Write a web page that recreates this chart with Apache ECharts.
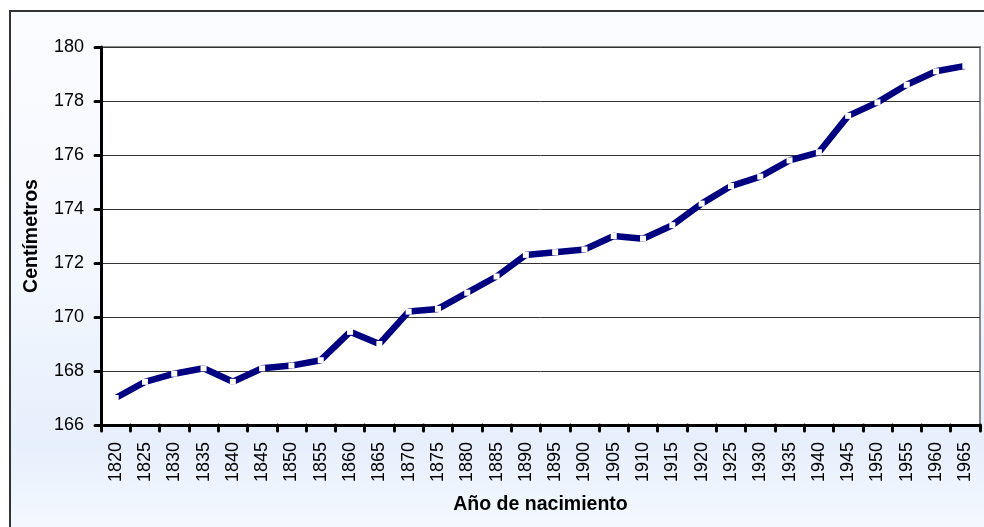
<!DOCTYPE html>
<html>
<head>
<meta charset="utf-8">
<script src="https://cdn.jsdelivr.net/npm/echarts@6/dist/echarts.min.js"></script>
<style>html,body{margin:0;padding:0;background:#fff}#c{width:984px;height:527px}</style>
</head>
<body>
<div id="c"></div>
<script>
const years = ['1820','1825','1830','1835','1840','1845','1850','1855','1860','1865','1870','1875','1880','1885','1890','1895','1900','1905','1910','1915','1920','1925','1930','1935','1940','1945','1950','1955','1960','1965'];
const heights = [167.0,167.6,167.9,168.1,167.6,168.1,168.2,168.4,169.45,169.0,170.2,170.3,170.9,171.5,172.3,172.4,172.5,173.0,172.9,173.4,174.2,174.85,175.2,175.8,176.1,177.45,177.95,178.6,179.1,179.3];
const yTicks = {min:166, max:180, interval:2};

const chart = echarts.init(document.getElementById('c'));
const font = '"Liberation Sans", Arial, sans-serif';
chart.setOption({
  animation:false,
  backgroundColor:'#ffffff',
  graphic:{elements:[{
    type:'rect', z:-100, silent:true,
    shape:{x:10,y:11,width:1000,height:600},
    style:{
      fill:new echarts.graphic.LinearGradient(0,0,0,1,[
        {offset:0,color:'#fbfcff'},
        {offset:0.45,color:'#f3f7fe'},
        {offset:0.72,color:'#e6effc'},
        {offset:0.88,color:'#f7faff'},
        {offset:1,color:'#ffffff'}]),
      stroke:'#333333', lineWidth:2
    }
  }]},
  grid:{left:101,right:4,top:47,bottom:102,show:true,backgroundColor:'#ffffff',borderColor:'#8a8a8a',borderWidth:2,containLabel:false},
  xAxis:{
    type:'category', data:years, boundaryGap:true,
    name:'Año de nacimiento', nameLocation:'middle', nameGap:70,
    nameTextStyle:{fontFamily:font,fontSize:19.5,fontWeight:'bold',color:'#000'},
    axisLine:{lineStyle:{color:'#000',width:3}},
    axisTick:{show:true,length:6,lineStyle:{color:'#000',width:3,cap:'round'}},
    axisLabel:{rotate:90,margin:17,fontFamily:font,fontSize:18,color:'#000'},
    splitLine:{show:false}
  },
  yAxis:{
    type:'value', min:yTicks.min, max:yTicks.max, interval:yTicks.interval,
    name:'Centímetros', nameLocation:'middle', nameGap:59, nameRotate:90,
    nameTextStyle:{fontFamily:font,fontSize:19.5,fontWeight:'bold',color:'#000'},
    axisLine:{show:true,lineStyle:{color:'#000',width:3}},
    axisTick:{show:true,length:6,lineStyle:{color:'#000',width:3,cap:'round'}},
    axisLabel:{margin:17,fontFamily:font,fontSize:18,color:'#000'},
    splitLine:{show:true,lineStyle:{color:'#333',width:1}}
  },
  series:[{
    type:'line', data:heights,
    lineStyle:{color:'#000080',width:6.5},
    symbol:'rect', symbolSize:[6,6], showSymbol:true,
    itemStyle:{color:'#ffffff',borderWidth:0},
    z:5
  }]
});
</script>
</body>
</html>
